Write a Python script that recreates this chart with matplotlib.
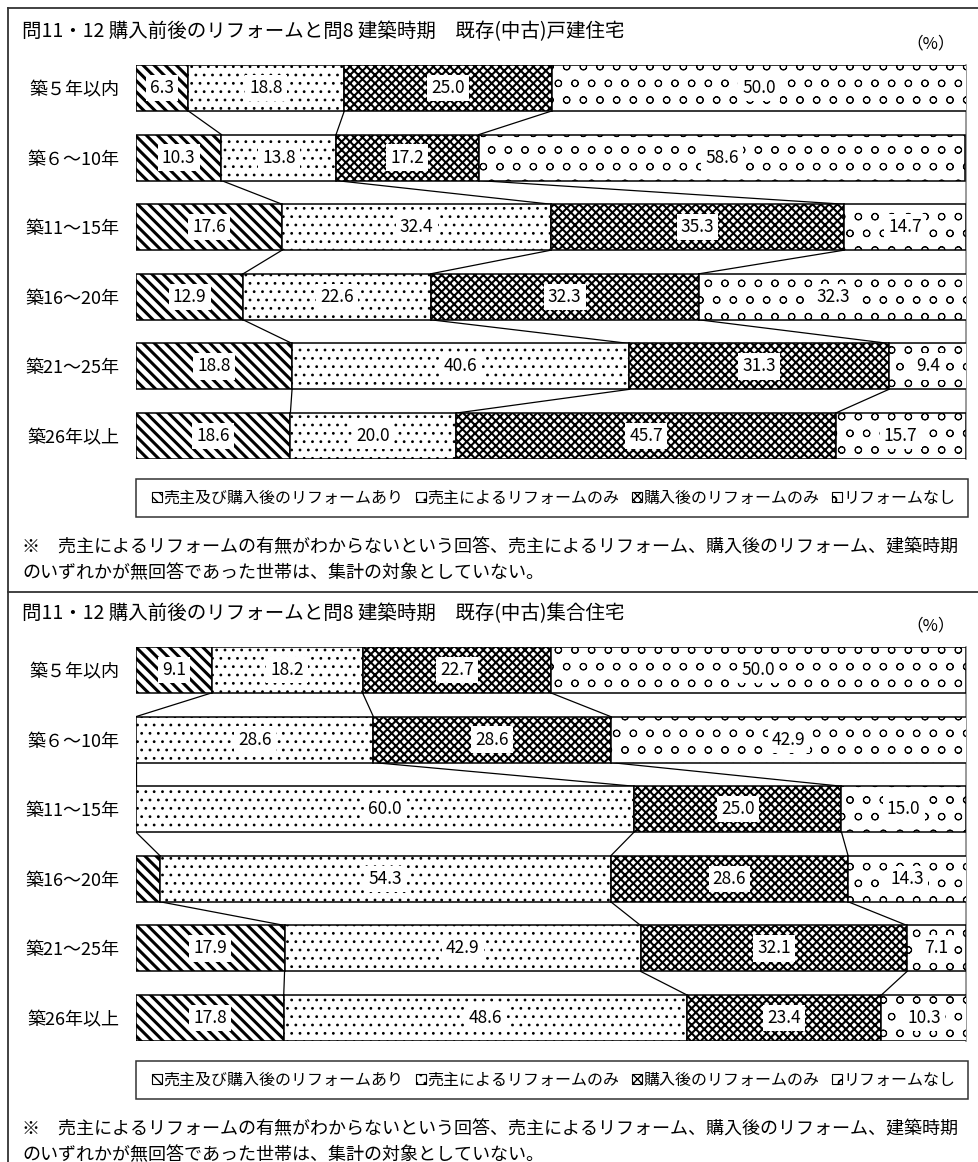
import matplotlib
matplotlib.use("Agg")
import matplotlib.pyplot as plt
from matplotlib.patches import Patch, Rectangle
from matplotlib.lines import Line2D

plt.rcParams['font.family'] = ['Noto Sans CJK JP', 'DejaVu Sans']
plt.rcParams['hatch.color'] = 'black'

W, H = 979, 1162

ages = ['築５年以内', '築６～10年', '築11～15年', '築16～20年', '築21～25年', '築26年以上']
series = ['売主及び購入後のリフォームあり', '売主によるリフォームのみ',
          '購入後のリフォームのみ', 'リフォームなし']

house_both = [6.3, 10.3, 17.6, 12.9, 18.8, 18.6]
house_seller = [18.8, 13.8, 32.4, 22.6, 40.6, 20.0]
house_after = [25.0, 17.2, 35.3, 32.3, 31.3, 45.7]
house_none = [50.0, 58.6, 14.7, 32.3, 9.4, 15.7]

apt_both = [9.1, 0.0, 0.0, 2.9, 17.9, 17.8]
apt_seller = [18.2, 28.6, 60.0, 54.3, 42.9, 48.6]
apt_after = [22.7, 28.6, 25.0, 28.6, 32.1, 23.4]
apt_none = [50.0, 42.9, 15.0, 14.3, 7.1, 10.3]

title_house = '問11・12 購入前後のリフォームと問8 建築時期　既存(中古)戸建住宅'
title_apt = '問11・12 購入前後のリフォームと問8 建築時期　既存(中古)集合住宅'
note1 = '※　売主によるリフォームの有無がわからないという回答、売主によるリフォーム、購入後のリフォーム、建築時期'
note2 = 'のいずれかが無回答であった世帯は、集計の対象としていない。'

hatches = ['\\\\\\', '..', 'xxxx', 'o']
hatch_lw = [2.2, 0.8, 1.5, 0.7]
bar_h = 0.66


def fig_line(fig, x0, y0, x1, y1):
    fig.add_artist(Line2D([x0 / W, x1 / W], [1 - y0 / H, 1 - y1 / H],
                          transform=fig.transFigure, color='#333333', lw=1.3))


def draw_panel(fig, top, title, cols):
    ax = fig.add_axes([136 / W, 1 - (top + 394) / H, 830 / W, 394 / H])
    n = len(ages)
    lefts = [0.0] * n
    bounds = []
    for s, vals in enumerate(cols):
        bars = ax.barh(range(n), vals, left=lefts, height=bar_h, color='white',
                       edgecolor='black', linewidth=1.1, hatch=hatches[s], zorder=3)
        for b in bars:
            if hasattr(b, 'set_hatch_linewidth'):
                b.set_hatch_linewidth(hatch_lw[s])
        for i, v in enumerate(vals):
            if v >= 5:
                ax.text(lefts[i] + v / 2, i, f'{v:.1f}', ha='center', va='center',
                        fontsize=12.5, zorder=5,
                        bbox=dict(facecolor='white', edgecolor='none', pad=3))
        lefts = [l + v for l, v in zip(lefts, vals)]
        if s < len(cols) - 1:
            bounds.append(list(lefts))
    # connector lines between neighbouring bars
    for bnd in bounds:
        for i in range(n - 1):
            ax.plot([bnd[i], bnd[i + 1]], [i + bar_h / 2, i + 1 - bar_h / 2],
                    color='black', lw=0.9, zorder=2)
    ax.set_xlim(0, 100)
    ax.set_ylim(n - 1 + bar_h / 2, -bar_h / 2)
    ax.set_yticks(range(n))
    ax.set_yticklabels(ages, fontsize=13)
    ax.tick_params(axis='y', length=0, pad=12)
    ax.set_xticks([])
    for side in ['top', 'bottom', 'left']:
        ax.spines[side].set_visible(False)
    ax.spines['right'].set_color('#888888')
    ax.spines['right'].set_linewidth(1.2)

    off = top - 65
    fig.text(22 / W, 1 - (32 + off) / H, title, fontsize=14, ha='left', va='center')
    fig.text(955 / W, 1 - (44 + off) / H, '（%）', fontsize=12, ha='right', va='center')

    # legend box
    fig.add_artist(Rectangle((136 / W, 1 - (517 + off) / H), 832 / W, 38 / H,
                             transform=fig.transFigure, fill=False,
                             edgecolor='#333333', lw=1.1))
    handles = [Patch(facecolor='white', edgecolor='black', hatch=hatches[s], lw=0.8)
               for s in range(len(series))]
    fig.legend(handles, series, loc='center', bbox_to_anchor=(554 / W, 1 - (498 + off) / H),
               ncol=4, frameon=False, fontsize=11.5, handlelength=0.6, handleheight=0.6,
               handletextpad=0.1, columnspacing=0.8, borderpad=0, borderaxespad=0)

    fig.text(22 / W, 1 - (547 + off) / H, note1, fontsize=13, ha='left', va='center')
    fig.text(22 / W, 1 - (573 + off) / H, note2, fontsize=13, ha='left', va='center')
    return ax


fig = plt.figure(figsize=(W / 100, H / 100), dpi=100)

fig_line(fig, 8, 8, 979, 8)
fig_line(fig, 8, 8, 8, 1162)
fig_line(fig, 8, 592, 979, 592)

draw_panel(fig, 65, title_house, [house_both, house_seller, house_after, house_none])
draw_panel(fig, 647, title_apt, [apt_both, apt_seller, apt_after, apt_none])

fig.savefig('out.png', dpi=100)
